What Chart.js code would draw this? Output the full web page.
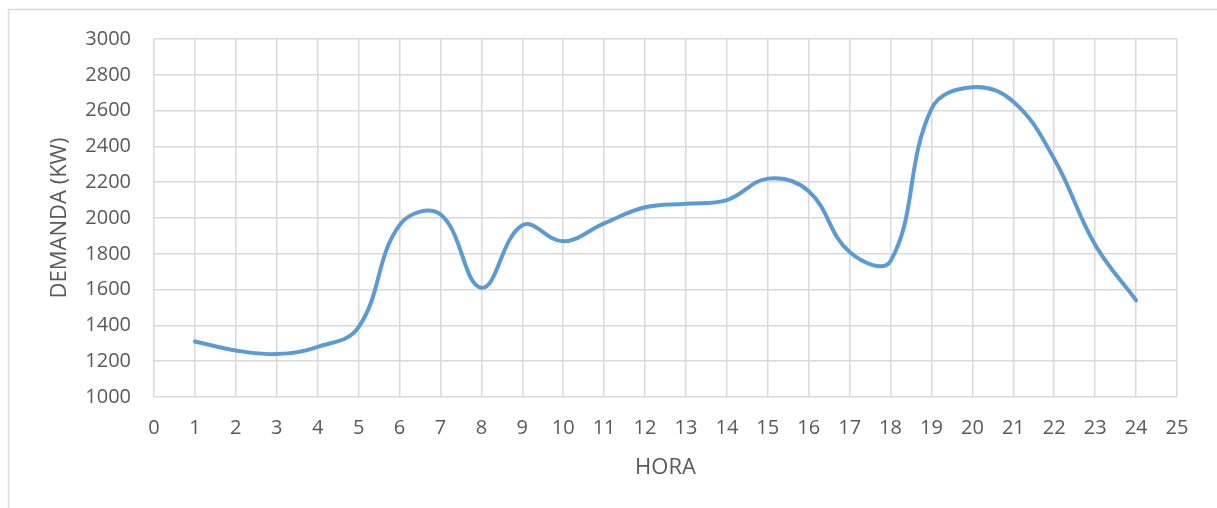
<!DOCTYPE html>
<html>
<head>
<meta charset="utf-8">
<script src="https://cdn.jsdelivr.net/npm/chart.js@4.4.1/dist/chart.umd.min.js"></script>
<style>
  html, body { margin: 0; padding: 0; background: #ffffff; }
  #wrap { position: relative; width: 1217px; height: 508px; }
  canvas { display: block; }
</style>
</head>
<body>
<div id="wrap"><canvas id="c" width="1217" height="508"></canvas></div>
<script>
// Data
const hours = [1, 2, 3, 4, 5, 6, 7, 8, 9, 10, 11, 12, 13, 14, 15, 16, 17, 18, 19, 20, 21, 22, 23, 24];
const demand = [1310, 1260, 1240, 1280, 1390, 1960, 2020, 1610, 1960, 1870, 1970, 2060, 2080, 2100, 2220, 2150, 1810, 1760, 2610, 2730, 2650, 2330, 1850, 1540];
const xTitle = 'HORA';
const yTitle = 'DEMANDA (KW)';
const xMin = 0, xMax = 25, xStep = 1;
const yMin = 1000, yMax = 3000, yStep = 200;

const points = hours.map((h, i) => ({ x: h, y: demand[i] }));

const textColor = '#595959';
const gridColor = '#d9d9d9';
const fontFamily = "'Open Sans', 'Noto Sans', sans-serif";

const frame = {
  id: 'frame',
  beforeDraw(chart) {
    const ctx = chart.ctx;
    ctx.save();
    ctx.fillStyle = '#ffffff';
    ctx.fillRect(0, 0, chart.width, chart.height);
    ctx.strokeStyle = gridColor;
    ctx.lineWidth = 1.5;
    ctx.beginPath();
    ctx.moveTo(8.5, chart.height);
    ctx.lineTo(8.5, 9.5);
    ctx.lineTo(chart.width, 9.5);
    ctx.stroke();
    ctx.restore();
  }
};

new Chart(document.getElementById('c'), {
  type: 'line',
  data: {
    datasets: [{
      data: points,
      borderColor: '#5b9bd5',
      borderWidth: 4,
      pointRadius: 0,
      pointHoverRadius: 0,
      fill: false,
      tension: 0.4,
      borderCapStyle: 'round',
      borderJoinStyle: 'round'
    }]
  },
  options: {
    responsive: false,
    animation: false,
    events: [],
    layout: { padding: { left: 0, right: 40, top: 39, bottom: 0 } },
    plugins: { legend: { display: false }, tooltip: { enabled: false } },
    scales: {
      x: {
        type: 'linear',
        min: xMin, max: xMax,
        afterFit(scale) { scale.height = 111; },
        ticks: { stepSize: xStep, color: textColor, font: { family: fontFamily, size: 20 }, padding: 19, maxRotation: 0, autoSkip: false,
                 callback: (v) => String(v) },
        grid: { color: gridColor, lineWidth: 1.5, drawTicks: false },
        border: { display: false },
        title: { display: true, text: xTitle, color: textColor, font: { family: fontFamily, size: 22 }, padding: { top: 0, bottom: 27 } }
      },
      y: {
        min: yMin, max: yMax,
        afterFit(scale) { scale.width = 154; },
        ticks: { stepSize: yStep, color: textColor, font: { family: fontFamily, size: 20 }, padding: 23,
                 callback: (v) => String(v) },
        grid: { color: gridColor, lineWidth: 1.5, drawTicks: false },
        border: { display: false },
        title: { display: true, text: yTitle, color: textColor, font: { family: fontFamily, size: 22 }, padding: { top: 47, bottom: 0 } }
      }
    }
  },
  plugins: [frame]
});
</script>
</body>
</html>
